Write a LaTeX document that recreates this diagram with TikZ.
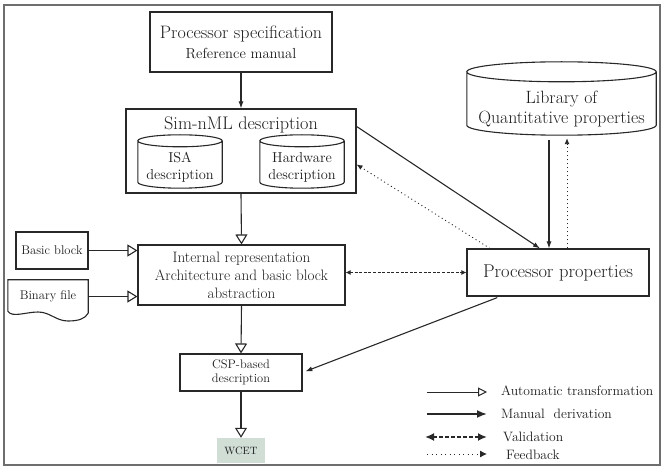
\documentclass[tikz,border=0pt]{standalone}
\usetikzlibrary{arrows.meta,calc}
\definecolor{wcetfill}{RGB}{208,222,214}
\definecolor{ink}{RGB}{40,40,40}
\definecolor{txt}{RGB}{30,30,30}
\definecolor{framec}{RGB}{110,110,110}
\begin{document}
\begin{tikzpicture}[x=1pt,y=-1pt,
  box/.style={draw=ink, line width=1.1pt, inner sep=0pt, align=center, text=txt},
  body/.style={inner sep=0pt, align=center, text=txt},
  fA/.style={font=\fontsize{18.5}{21}\selectfont},
  fB/.style={font=\fontsize{15.1}{18}\selectfont},
  fC/.style={font=\fontsize{12.6}{14}\selectfont},
  fL/.style={font=\fontsize{13.6}{15}\selectfont},
  ln/.style={draw=ink, line width=1.1pt},
  autoarr/.style={ln, -{Triangle[open,length=10pt,width=12pt,line width=1.1pt]}},
  manarr/.style={ln, -{Latex[length=7pt,width=5pt]}},
  valarr/.style={ln, dash pattern=on 3pt off 1.6pt, {Latex[length=5pt,width=5pt]}-{Latex[length=5pt,width=5pt]}},
  fbarr/.style={ln, line width=0.9pt, dash pattern=on 1pt off 3pt, -{Latex[length=6pt,width=5pt]}},
]
\useasboundingbox (0,0) rectangle (665,468);
\draw[framec, line width=1.6pt] (4,5) rectangle (660,465);

% boxes
\node[box, minimum width=182, minimum height=60] (spec) at (241,42)
  {{\fontsize{18}{20}\selectfont Processor specification}\\[5pt]{\fontsize{14.6}{17}\selectfont Reference manual}};
\node[box, minimum width=230, minimum height=84] (sim) at (241,151) {};
\node[body, font=\fontsize{18.2}{20}\selectfont] (simtitle) at (241,125) {Sim-nML description};
\node[body, font=\fontsize{14.4}{17}\selectfont, minimum width=84, minimum height=41] (isa) at (180,167.5) {ISA\\description};
\node[body, font=\fontsize{14.4}{17}\selectfont, minimum width=84, minimum height=41] (hw) at (302,167.5) {Hardware\\description};
\node[body, font=\fontsize{17.8}{20}\selectfont, minimum width=189, minimum height=53] (lib) at (561.5,108.5) {Library of\\Quantitative properties};
\foreach \c/\r in {isa/6, hw/6, lib/10}{
  \draw[ln] let \p1=(\c.north west), \p2=(\c.north east), \n1={(\x2-\x1)/2} in
    ([yshift=\r pt]\c.north west) -- ([yshift=\r pt]\c.south west)
    arc[start angle=180, end angle=360, x radius=\n1, y radius=\r pt]
    -- ([yshift=\r pt]\c.north east)
    ([yshift=\r pt]\c.north) ellipse[x radius=\n1, y radius=\r pt];
}
\node[box, fB, minimum width=207, minimum height=60] (ir) at (241.5,275)
  {Internal representation\\Architecture and basic block\\abstraction};
\node[box, fC, minimum width=72, minimum height=37] (bb) at (52,250.5) {Basic block};
\node[body, fC, minimum width=80, minimum height=33] (bf) at (48,296.5) {Binary file};
\draw[ln] (bf.south east) -- (bf.north east) -- (bf.north west) -- ([yshift=2pt]bf.south west)
  .. controls (12,318) and (26,312) .. (38,312)
  .. controls (50,312) and (56,321) .. (68,321)
  .. controls (78,321) and (85,319) .. (bf.south east);
\node[box, font=\fontsize{12.4}{14}\selectfont, minimum width=122, minimum height=37] (csp) at (241,372.5) {CSP-based\\description};
\node[body, font=\fontsize{10.6}{12}\selectfont, fill=wcetfill, minimum width=48, minimum height=25] (wcet) at (241,450.5) {WCET};
\node[box, fA, minimum width=182, minimum height=47] (pp) at (558,272.5) {Processor properties};

% connectors
\draw[manarr] (spec.south) -- (sim.north);
\draw[autoarr] (sim.south) -- (ir.north);
\draw[autoarr] (ir.south) -- (csp.north);
\draw[autoarr] (csp.south) -- (wcet.north);
\draw[autoarr] (bb.east) -- (bb.east -| ir.west);
\draw[autoarr] (bf.east) -- (bf.east -| ir.west);
\draw[valarr] (pp.west -| ir.east) -- (pp.west);
\draw[manarr] ([yshift=-18pt]sim.north east) -- ([xshift=-18pt]pp.north);
\draw[fbarr] ([xshift=-68pt]pp.north) -- ([yshift=-56pt]sim.north east);
\draw[manarr, shorten <=5pt] ([xshift=-9pt]pp.north |- lib.south) -- ([xshift=-9pt]pp.north);
\draw[fbarr, shorten >=3pt] ([xshift=9pt]pp.north) -- ([xshift=9pt]pp.north |- lib.south);
\draw[manarr, shorten <=3pt, shorten >=3pt] ([xshift=-58pt]pp.south) -- (csp.east);

% legend
\coordinate (a1) at (427,392); \coordinate (a2) at (487,392);
\coordinate (m1) at (427,414); \coordinate (m2) at (487,414);
\coordinate (v1) at (425,437); \coordinate (v2) at (487,437);
\coordinate (f1) at (427,454); \coordinate (f2) at (487,454);
\draw[draw=ink, line width=0.9pt, -{Triangle[open,length=9pt,width=9pt,line width=1pt]}] (a1) -- (a2);
\draw[draw=ink, line width=1.8pt, -{Latex[length=10pt,width=8pt]}] (m1) -- (m2);
\draw[draw=ink, line width=1.8pt, dash pattern=on 4pt off 2pt, {Latex[length=9pt,width=8pt]}-{Latex[length=9pt,width=8pt]}] (v1) -- (v2);
\draw[draw=ink, line width=0.9pt, dash pattern=on 1pt off 3.5pt, -{Latex[length=7pt,width=7pt]}] (f1) -- (f2);
\node[body, fL, anchor=west] (la) at (501,391) {Automatic transformation};
\node[body, fL, anchor=west] (lm) at (501,414) {Manual\ \ derivation};
\node[body, fL, anchor=west] (lv) at (503,437) {Validation};
\node[body, fL, anchor=west] (lf) at (506,455) {Feedback};
\end{tikzpicture}
\end{document}
